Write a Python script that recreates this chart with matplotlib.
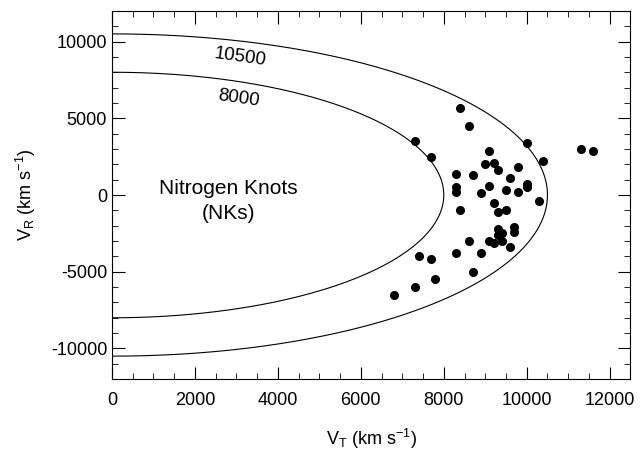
import numpy as np
import matplotlib
matplotlib.use("Agg")
import matplotlib.pyplot as plt
from matplotlib.ticker import MultipleLocator

# knot velocities (km/s)
vt = [8400, 8600, 7300, 7700, 10000, 11300, 11600, 10400, 9100, 9000,
      9200, 9300, 9800, 8300, 8700, 9600, 9100, 10000, 10000, 8300,
      8300, 9500, 9800, 8900, 9200, 10300, 8400, 9300, 9500, 9300,
      9700, 9700, 9400, 9300, 8600, 9100, 9200, 9400, 9600, 8300,
      8900, 7400, 7700, 8700, 7800, 7300, 6800]
vr = [5700, 4500, 3500, 2500, 3400, 3000, 2900, 2200, 2900, 2000,
      2100, 1600, 1800, 1400, 1300, 1100, 600, 700, 500, 500,
      200, 300, 200, 100, -500, -400, -1000, -1100, -1000, -2200,
      -2100, -2400, -2500, -2600, -3000, -3000, -3100, -3000, -3400, -3800,
      -3800, -4000, -4200, -5000, -5500, -6000, -6500]

radii = [8000, 10500]
radius_labels = ["8000", "10500"]

plt.rcParams['font.family'] = ['Liberation Sans', 'DejaVu Sans']
plt.rcParams['axes.unicode_minus'] = False

fig = plt.figure(figsize=(6.4, 4.53), dpi=100)
ax = fig.add_axes([0.175, 0.163, 0.81, 0.813])

th = np.linspace(-np.pi/2, np.pi/2, 400)
for r in radii:
    ax.plot(r*np.cos(th), r*np.sin(th), color='black', lw=0.8)

ax.plot(vt, vr, 'o', color='black', ms=5.5, mec='black')

ax.text(3090, 8980, radius_labels[1], fontsize=13.5, rotation=-8, ha='center', va='center')
ax.text(3050, 6310, radius_labels[0], fontsize=13.5, rotation=-8, ha='center', va='center')
ax.text(2800, -400, "Nitrogen Knots\n(NKs)", fontsize=15, ha='center', va='center',
        linespacing=1.4)

ax.set_xlim(0, 12500)
ax.set_ylim(-12000, 12000)
ax.xaxis.set_major_locator(MultipleLocator(2000))
ax.xaxis.set_minor_locator(MultipleLocator(500))
ax.yaxis.set_major_locator(MultipleLocator(5000))
ax.yaxis.set_minor_locator(MultipleLocator(1000))
ax.tick_params(which='both', direction='in', top=True, right=True, labelsize=13)
ax.tick_params(which='major', length=9)
ax.tick_params(which='minor', length=4.5)
ax.tick_params(axis='x', pad=9)

ax.set_xlabel(r"V$_\mathregular{T}$ (km s$^\mathregular{-1}$)", fontsize=13, labelpad=13)
ax.set_ylabel(r"V$_\mathregular{R}$ (km s$^\mathregular{-1}$)", fontsize=13, labelpad=9)

fig.savefig("out.png", dpi=100)
